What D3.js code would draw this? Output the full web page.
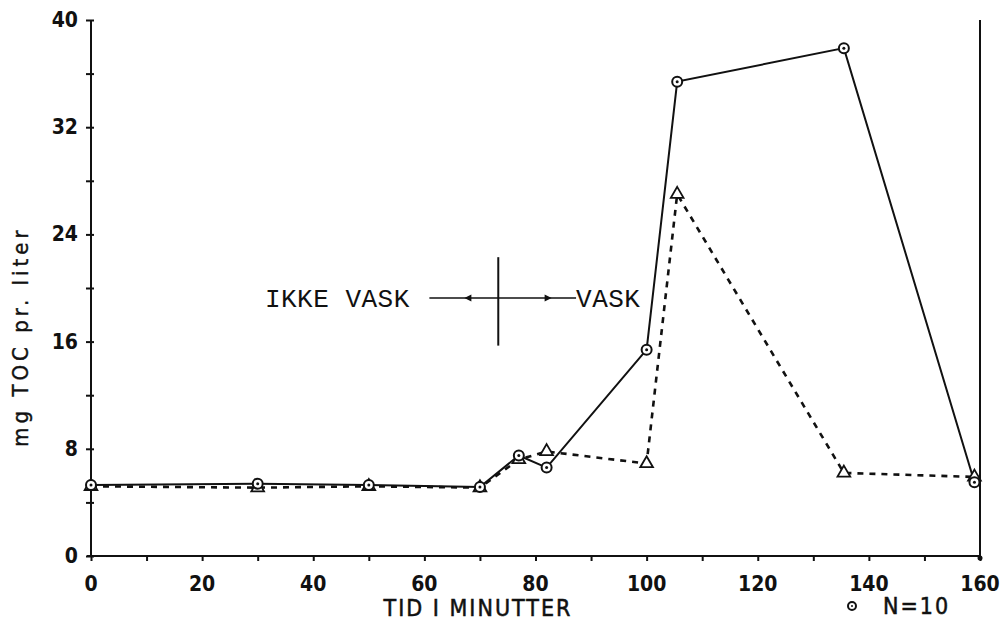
<!DOCTYPE html>
<html>
<head>
<meta charset="utf-8">
<script src="https://cdn.jsdelivr.net/npm/d3@7"></script>
<style>
  html, body { margin: 0; padding: 0; background: #fff; }
  svg { display: block; }
  .plot { font-family: 'Liberation Sans Narrow', 'DejaVu Sans Condensed', sans-serif; font-weight: bold; fill: #111; }
  .mono { font-family: 'Liberation Mono', 'DejaVu Sans Mono', monospace; fill: #111; }
</style>
</head>
<body>
<svg id="chart" width="1003" height="626"></svg>
<script>
// ---- data ----
const timeMinutes   = [0, 30, 50, 70, 77, 82, 100, 105.5, 135.5, 159];
const tocCircle     = [5.3, 5.4, 5.3, 5.15, 7.5, 6.6, 15.4, 35.4, 37.9, 5.5];
const tocTriangle   = [5.2, 5.1, 5.2, 5.1, 7.2, 7.8, 6.9, 27.0, 6.2, 5.9];
const xTickLabels   = [0, 20, 40, 60, 80, 100, 120, 140, 160];
const yTickLabels   = [0, 8, 16, 24, 32, 40];
const xTitle        = "TID I MINUTTER";
const yTitle        = "mg TOC pr. liter";
const legendText    = "N=10";
const annotLeft     = "IKKE VASK";
const annotRight    = "VASK";
const washStart     = 73.3;   // minute where washing starts (divider)

// ---- layout ----
const svg = d3.select("#chart");
const x = d3.scaleLinear().domain([0, 160]).range([91, 980]);
const y = d3.scaleLinear().domain([0, 40]).range([556, 20]);

const g = svg.append("g");
const ink = "#111";

// axes lines
g.append("line").attr("x1", x(0) - 4).attr("x2", x(160)).attr("y1", y(0)).attr("y2", y(0))
  .attr("stroke", ink).attr("stroke-width", 2);
g.append("line").attr("x1", x(0)).attr("x2", x(0)).attr("y1", y(0)).attr("y2", y(40))
  .attr("stroke", ink).attr("stroke-width", 2);
g.append("line").attr("x1", x(160)).attr("x2", x(160)).attr("y1", y(0)).attr("y2", y(40))
  .attr("stroke", ink).attr("stroke-width", 2);
g.append("circle").attr("cx", x(160)).attr("cy", y(0) + 2).attr("r", 2.5).attr("fill", ink);

// x ticks (every 10) via d3 axis
const xAxis = d3.axisBottom(x).tickValues(d3.range(0, 161, 10)).tickSize(5).tickFormat("");
const xa = g.append("g").attr("transform", `translate(0,${y(0)})`).call(xAxis);
xa.select(".domain").remove();
xa.selectAll(".tick line").attr("stroke", ink).attr("stroke-width", 2);
g.selectAll(".xlab").data(xTickLabels).enter().append("text")
  .attr("class", "plot").attr("x", d => x(d)).attr("y", 591)
  .attr("text-anchor", "middle").attr("font-size", 21).text(d => d);

// y ticks (every 4) via d3 axis
const yAxis = d3.axisLeft(y).tickValues(d3.range(0, 41, 4)).tickSize(5).tickFormat("");
const ya = g.append("g").attr("transform", `translate(${x(0)},0)`).call(yAxis);
ya.select(".domain").remove();
ya.selectAll(".tick line").attr("stroke", ink).attr("stroke-width", 2).attr("x2", -5).attr("x1", 3);
g.selectAll(".ylab").data(yTickLabels).enter().append("text")
  .attr("class", "plot").attr("x", 78).attr("y", d => y(d) + 7)
  .attr("text-anchor", "end").attr("font-size", 21).text(d => d);

// titles
g.append("text").attr("class", "plot").attr("x", 478).attr("y", 616)
  .attr("text-anchor", "middle").attr("font-size", 23).attr("letter-spacing", 2)
  .style("font-weight", "normal").style("stroke", ink).style("stroke-width", 0.5)
  .text(xTitle);
g.append("text").attr("class", "plot")
  .attr("transform", `translate(28,${y(16) - 5}) rotate(-90)`)
  .attr("text-anchor", "middle").attr("font-size", 22).attr("letter-spacing", 4)
  .style("font-weight", "normal").style("stroke", ink).style("stroke-width", 0.4)
  .text(yTitle);

// legend
g.append("circle").attr("cx", 852).attr("cy", 606).attr("r", 4).attr("fill", "none")
  .attr("stroke", ink).attr("stroke-width", 2);
g.append("circle").attr("cx", 852).attr("cy", 606).attr("r", 1).attr("fill", ink);
g.append("text").attr("class", "plot").attr("x", 883).attr("y", 614)
  .attr("font-size", 23).attr("letter-spacing", 2)
  .style("font-weight", "normal").style("stroke", ink).style("stroke-width", 0.5)
  .text(legendText);

// series data
const pts = timeMinutes.map((t, i) => ({ t, c: tocCircle[i], tr: tocTriangle[i] }));

// dashed triangle series
g.append("path").datum(pts)
  .attr("d", d3.line().x(d => x(d.t)).y(d => y(d.tr)))
  .attr("fill", "none").attr("stroke", ink).attr("stroke-width", 2.6)
  .attr("stroke-dasharray", "6,6");
// solid circle series
g.append("path").datum(pts)
  .attr("d", d3.line().x(d => x(d.t)).y(d => y(d.c)))
  .attr("fill", "none").attr("stroke", ink).attr("stroke-width", 2);

// triangle markers
const tri = d3.symbol().type(d3.symbolTriangle).size(70);
g.selectAll(".tri").data(pts).enter().append("path")
  .attr("transform", d => `translate(${x(d.t)},${y(d.tr)})`)
  .attr("d", tri).attr("fill", "#fff").attr("stroke", ink).attr("stroke-width", 1.8);

// circle markers
g.selectAll(".circ").data(pts).enter().append("circle")
  .attr("cx", d => x(d.t)).attr("cy", d => y(d.c)).attr("r", 5)
  .attr("fill", "#fff").attr("stroke", ink).attr("stroke-width", 2);
g.selectAll(".circd").data(pts).enter().append("circle")
  .attr("cx", d => x(d.t)).attr("cy", d => y(d.c)).attr("r", 1.5).attr("fill", ink);

// annotation: divider and arrows
const ay = y(19.25);
g.append("line").attr("x1", x(washStart)).attr("x2", x(washStart))
  .attr("y1", y(22.3)).attr("y2", y(15.7)).attr("stroke", ink).attr("stroke-width", 2);
g.append("line").attr("x1", x(60.9)).attr("x2", x(87.3)).attr("y1", ay).attr("y2", ay)
  .attr("stroke", ink).attr("stroke-width", 1.6);
// arrowheads
const headL = x(67.2), headR = x(82.9);
g.append("path").attr("d", `M${headL},${ay} l7,-3.5 l0,7 Z`).attr("fill", ink);
g.append("path").attr("d", `M${headR},${ay} l-7,-3.5 l0,7 Z`).attr("fill", ink);
g.append("text").attr("class", "mono").attr("x", x(31.3)).attr("y", ay + 9)
  .attr("font-size", 26).attr("letter-spacing", 0.5).text(annotLeft);
g.append("text").attr("class", "mono").attr("x", x(87.3)).attr("y", ay + 9)
  .attr("font-size", 26).attr("letter-spacing", 0.5).text(annotRight);
</script>
</body>
</html>
